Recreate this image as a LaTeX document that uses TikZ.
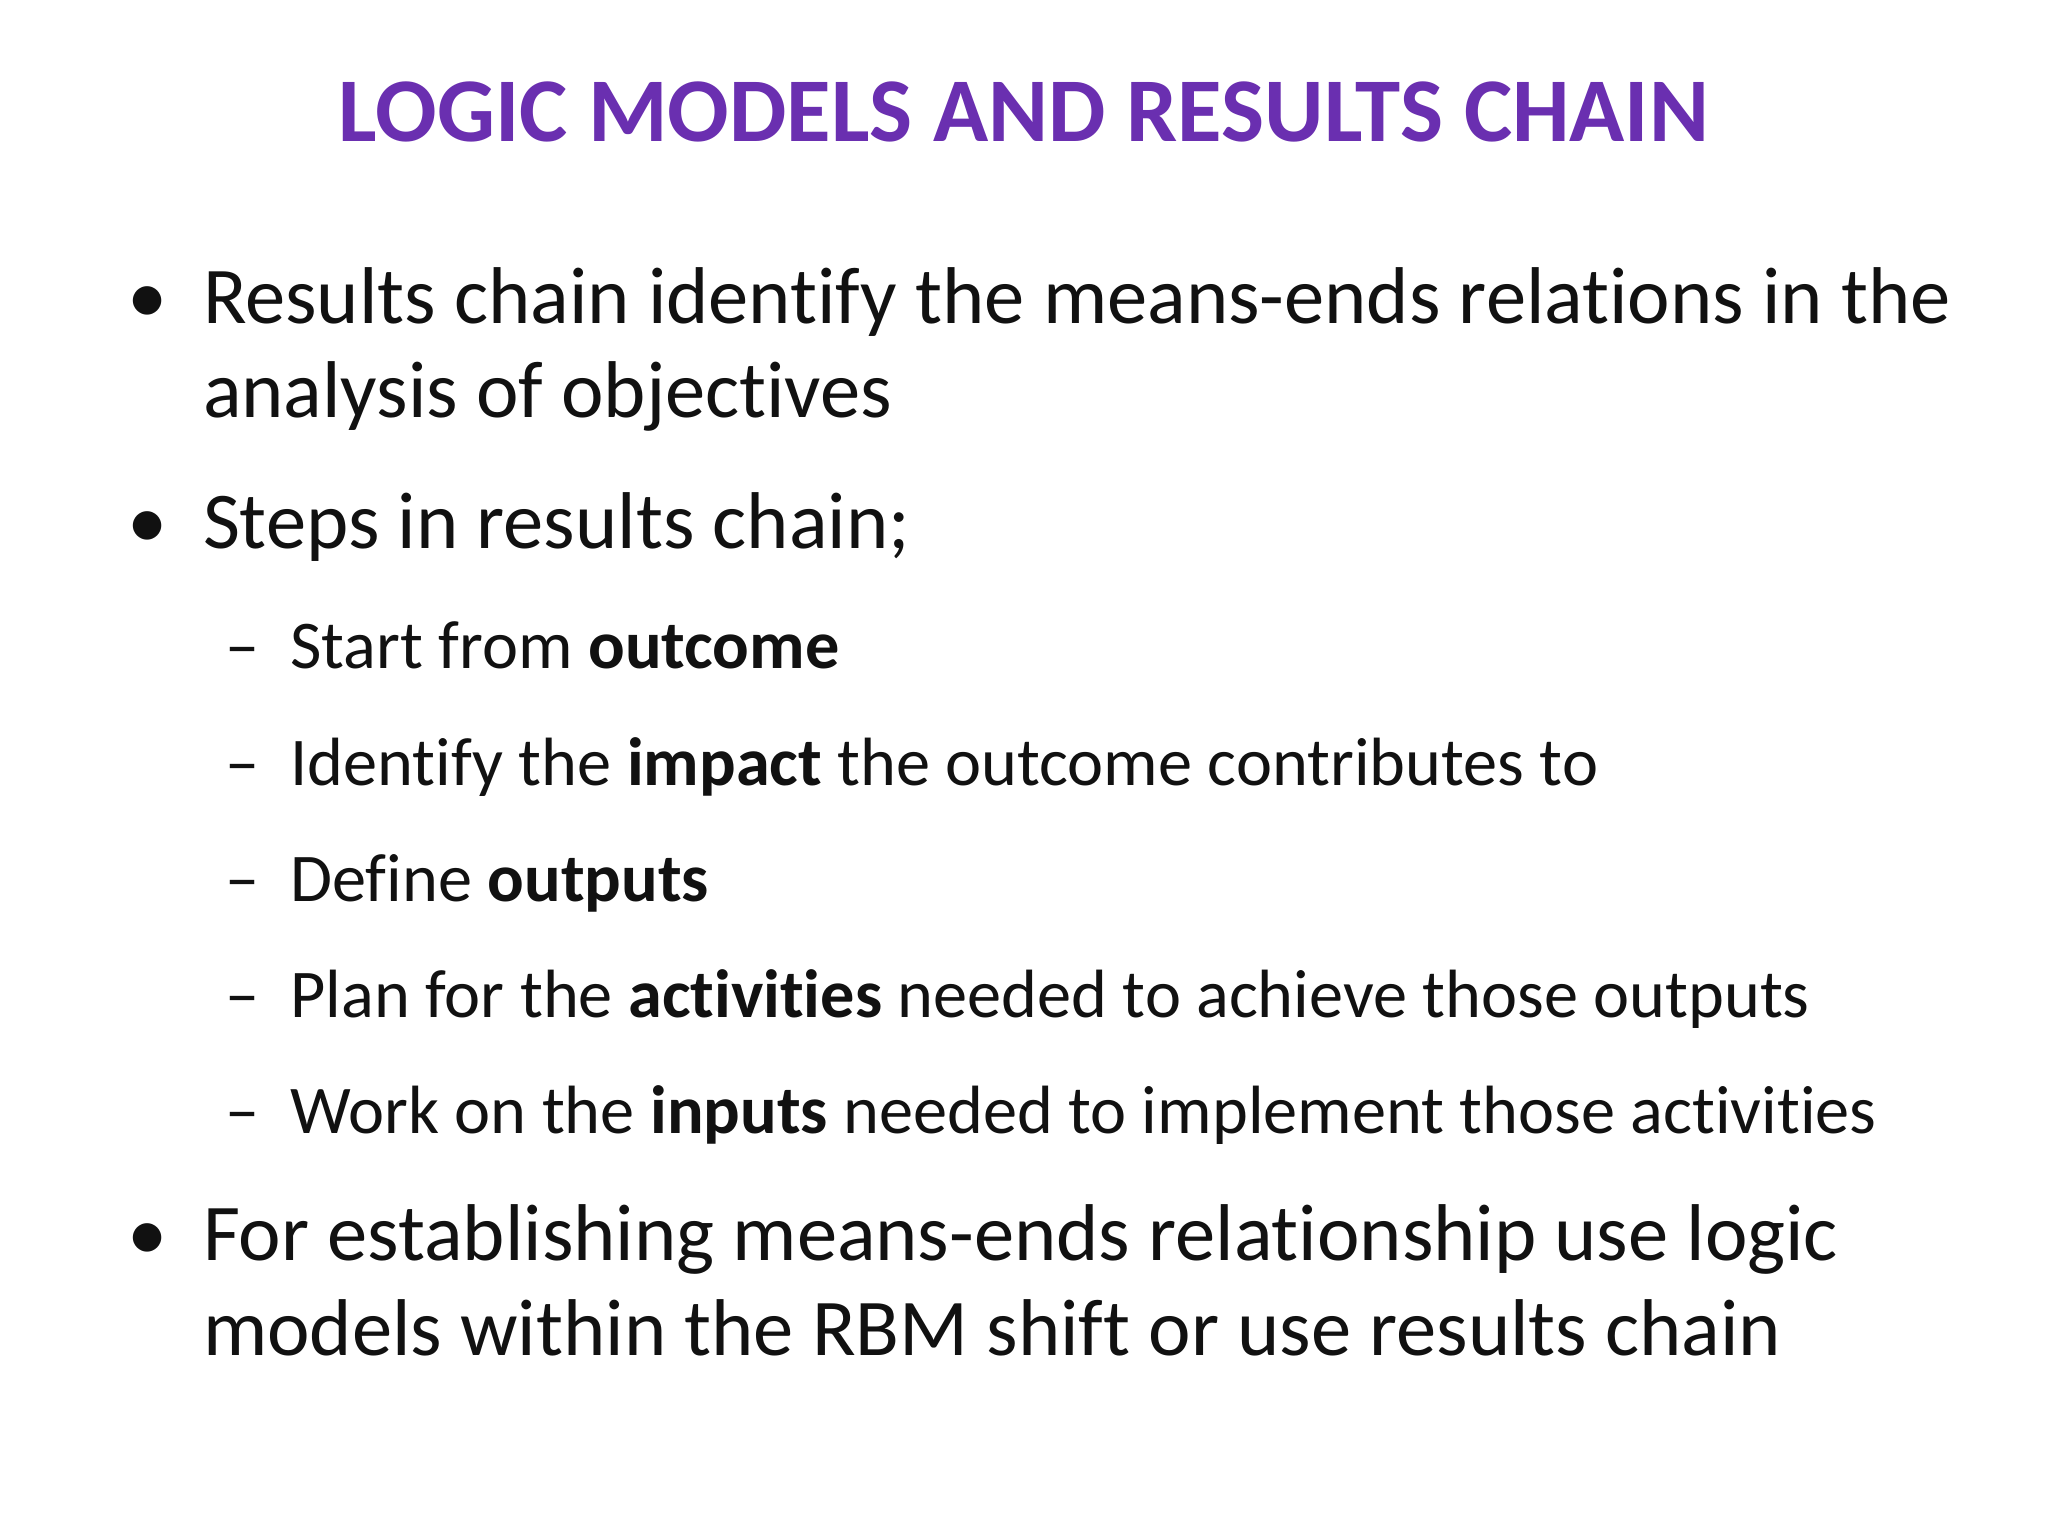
\documentclass[tikz,border=0pt]{standalone}
\usepackage{fontspec}
\setmainfont[Ligatures={NoCommon}]{Carlito}
\definecolor{titlepurple}{HTML}{6A2FB0}
\definecolor{bodytext}{HTML}{111111}
\begin{document}
\begin{tikzpicture}[x=0.459pt,y=-0.459pt,
  bodyline/.style={anchor=base west,inner sep=0pt,font=\fontsize{28.3}{34}\selectfont,text=bodytext},
  subline/.style={anchor=base west,inner sep=0pt,font=\fontsize{24}{30}\selectfont,text=bodytext},
  titletext/.style={inner sep=0pt,font=\fontsize{32}{40}\selectfont\bfseries,text=titlepurple}]
\useasboundingbox[fill=white] (0,0) rectangle (1568,1176);
\node[titletext,anchor=base] (title) at (784,108) {LOGIC MODELS AND RESULTS CHAIN};
\node[bodyline] (b1) at (97,248) {•};
\node[bodyline] (t1a) at (155,248) {Results chain identify the means-ends relations in the};
\node[bodyline] (t1b) at (155,320) {analysis of objectives};
\node[bodyline] (b2) at (97,420) {•};
\node[bodyline] (t2) at (155,420) {Steps in results chain;};
\node[subline] (d1) at (172,512) {–};
\node[subline] (s1) at (222,512) {Start from \textbf{outcome}};
\node[subline] (d2) at (172,601) {–};
\node[subline] (s2) at (222,601) {Identify the \textbf{impact} the outcome contributes to};
\node[subline] (d3) at (172,690) {–};
\node[subline] (s3) at (222,690) {Define \textbf{outputs}};
\node[subline] (d4) at (172,779) {–};
\node[subline] (s4) at (222,779) {Plan for the \textbf{activities} needed to achieve those outputs};
\node[subline] (d5) at (172,868) {–};
\node[subline] (s5) at (222,868) {Work on the \textbf{inputs} needed to implement those activities};
\node[bodyline] (b3) at (97,965) {•};
\node[bodyline] (t3a) at (155,965) {For establishing means-ends relationship use logic};
\node[bodyline] (t3b) at (155,1038) {models within the RBM shift or use results chain};
\end{tikzpicture}
\end{document}
